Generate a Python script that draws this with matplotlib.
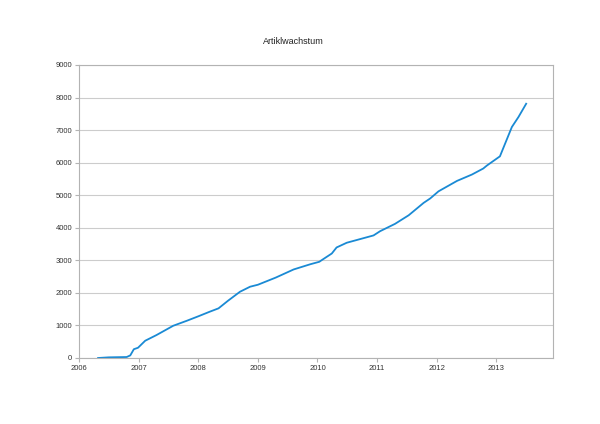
import matplotlib
matplotlib.use("Agg")
import matplotlib.pyplot as plt

title = "Artiklwachstum"
years = [2006.32, 2006.50, 2006.80, 2006.86, 2006.92, 2006.99, 2007.11, 2007.30,
         2007.58, 2007.81, 2008.00, 2008.19, 2008.34, 2008.50, 2008.70, 2008.87,
         2009.00, 2009.30, 2009.60, 2009.88, 2010.03, 2010.07, 2010.24, 2010.32,
         2010.49, 2010.94, 2011.05, 2011.30, 2011.53, 2011.78, 2011.89, 2012.03,
         2012.34, 2012.59, 2012.78, 2012.84, 2013.06, 2013.26, 2013.37, 2013.50]
articles = [0, 20, 30, 80, 270, 315, 530, 705,
            990, 1145, 1280, 1420, 1525, 1760, 2035, 2190,
            2250, 2470, 2720, 2880, 2955, 3005, 3210, 3395,
            3540, 3765, 3895, 4120, 4385, 4765, 4900, 5120,
            5440, 5635, 5820, 5910, 6195, 7095, 7400, 7810]
xticks = [2006, 2007, 2008, 2009, 2010, 2011, 2012, 2013]
yticks = list(range(0, 9001, 1000))

plt.rcParams['font.family'] = ['Liberation Sans', 'DejaVu Sans']

fig = plt.figure(figsize=(6.0, 4.24), dpi=100)
ax = fig.add_axes([79/600, 66/424, (553-79)/600, (358-65)/424])

ax.plot(years, articles, color='#1a8ad4', linewidth=1.3, solid_joinstyle='round')

ax.set_xlim(2006, 2013.95)
ax.set_ylim(0, 9000)
ax.set_xticks(xticks)
ax.set_xticklabels([str(y) for y in xticks])
ax.set_yticks(yticks)
ax.set_yticklabels([str(v) for v in yticks])
ax.yaxis.grid(True, color='#cccccc', linewidth=0.8)
ax.set_axisbelow(True)
for s in ax.spines.values():
    s.set_color('#b3b3b3')
    s.set_linewidth(0.8)
ax.tick_params(axis='both', labelsize=5.5, colors='#b3b3b3', labelcolor='#333333',
               length=3, width=0.8, pad=2)

fig.text(293/600, 1 - 42/424, title, ha='center', va='center',
         fontsize=6.5, color='#222222')

fig.savefig('out.png', dpi=100)
